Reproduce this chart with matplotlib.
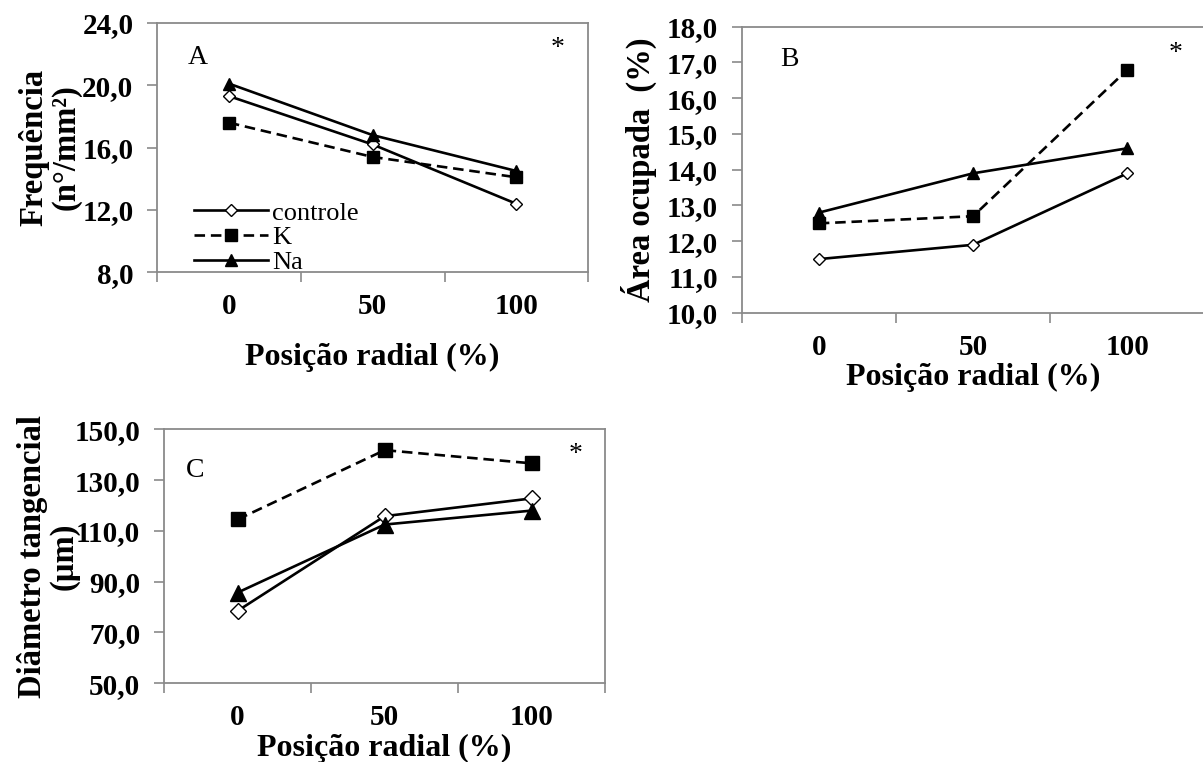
import matplotlib
matplotlib.use("Agg")
import matplotlib.pyplot as plt
from matplotlib.ticker import FuncFormatter

plt.rcParams["font.family"] = ["Liberation Serif", "DejaVu Serif"]

# ---------------------------------------------------------------- dados
posicoes = ["0", "50", "100"]
series = ["controle", "K", "Na"]

freq_controle = [19.3, 16.2, 12.4]
freq_k = [17.6, 15.4, 14.1]
freq_na = [20.1, 16.8, 14.5]

area_controle = [11.5, 11.9, 13.9]
area_k = [12.5, 12.7, 16.8]
area_na = [12.8, 13.9, 14.6]

diam_controle = [78.5, 115.8, 122.8]
diam_k = [114.5, 141.8, 136.6]
diam_na = [85.7, 112.5, 118.0]

FRAME = "#8a8a8a"
STYLES = {
    "controle": dict(color="black", ls="-", marker="D", ms=6.2, mfc="white", mec="black", mew=1.0),
    "K": dict(color="black", ls=(0, (4, 2.2)), marker="s", ms=8.5, mfc="black", mec="black"),
    "Na": dict(color="black", ls="-", marker="^", ms=9, mfc="black", mec="black"),
}


def virgula(v, _pos):
    return f"{v:.1f}".replace(".", ",")


def painel(ax, dados, ylim, ystep, letra, letra_xy, ylabel, ms_scale=1.0):
    x = range(len(posicoes))
    for nome, ys in zip(series, dados):
        st = dict(STYLES[nome])
        st["ms"] = st["ms"] * ms_scale
        ax.plot(x, ys, lw=1.9, label=nome, **st)
    ax.set_xlim(-0.5, len(posicoes) - 0.5)
    ax.set_ylim(*ylim)
    yt = [ylim[0] + i * ystep for i in range(int(round((ylim[1] - ylim[0]) / ystep)) + 1)]
    ax.set_yticks(yt)
    ax.yaxis.set_major_formatter(FuncFormatter(virgula))
    # marcas nos limites das categorias, rótulos no centro
    ax.set_xticks([i - 0.5 for i in range(len(posicoes) + 1)])
    ax.set_xticklabels([])
    ax.set_xticks(list(x), minor=True)
    ax.set_xticklabels(posicoes, minor=True)
    ax.tick_params(axis="x", which="major", length=7, width=1.2, color=FRAME, direction="out")
    ax.tick_params(axis="x", which="minor", length=0, pad=15, labelsize=21)
    ax.tick_params(axis="y", length=7, width=1.2, color=FRAME, direction="out", labelsize=21, pad=10)
    for lab in ax.get_xticklabels(minor=True) + ax.get_yticklabels():
        lab.set_fontweight("bold")
    for sp in ax.spines.values():
        sp.set_color(FRAME)
        sp.set_linewidth(1.3)
    ax.text(*letra_xy, letra, transform=ax.transAxes, fontsize=20, va="center", ha="left")
    ax.set_ylabel(ylabel, fontsize=23.5, fontweight="bold", linespacing=1.05)


fig = plt.figure(figsize=(12.03, 7.62), dpi=100)

# A - frequência
axA = fig.add_axes([0.1305, 0.6424, 0.3585, 0.3278])
painel(axA, [freq_controle, freq_k, freq_na], (8, 24), 4, "A", (0.072, 0.859),
       "Frequência\n(n°/mm²)")
axA.set_xlabel("Posição radial (%)", fontsize=23, fontweight="bold", labelpad=16)
axA.yaxis.set_label_coords(-0.175, 0.5)
axA.text(0.93, 0.895, "*", transform=axA.transAxes, fontsize=20, ha="center", va="center")
axA.legend(loc="lower left", bbox_to_anchor=(0.05, -0.07), frameon=False, fontsize=19,
           handlelength=2.8, handletextpad=0.15, labelspacing=0.05, borderaxespad=0.2)

# B - área ocupada
axB = fig.add_axes([0.6165, 0.5896, 0.3848, 0.3753])
painel(axB, [area_controle, area_k, area_na], (10, 18), 1, "B", (0.083, 0.887),
       "Área ocupada  (%)")
axB.set_xlabel("Posição radial (%)", fontsize=23, fontweight="bold", labelpad=2)
axB.yaxis.set_label_coords(-0.183, 0.5)
axB.text(0.938, 0.905, "*", transform=axB.transAxes, fontsize=20, ha="center", va="center")

# C - diâmetro tangencial
axC = fig.add_axes([0.1363, 0.1033, 0.3669, 0.3333])
painel(axC, [diam_controle, diam_k, diam_na], (50, 150), 20, "C", (0.05, 0.836),
       "Diâmetro tangencial\n(µm)", ms_scale=1.25)
axC.set_xlabel("Posição radial (%)", fontsize=23, fontweight="bold", labelpad=2)
axC.yaxis.set_label_coords(-0.19, 0.5)
axC.text(0.932, 0.9, "*", transform=axC.transAxes, fontsize=20, ha="center", va="center")

fig.savefig("out.png", dpi=100)
